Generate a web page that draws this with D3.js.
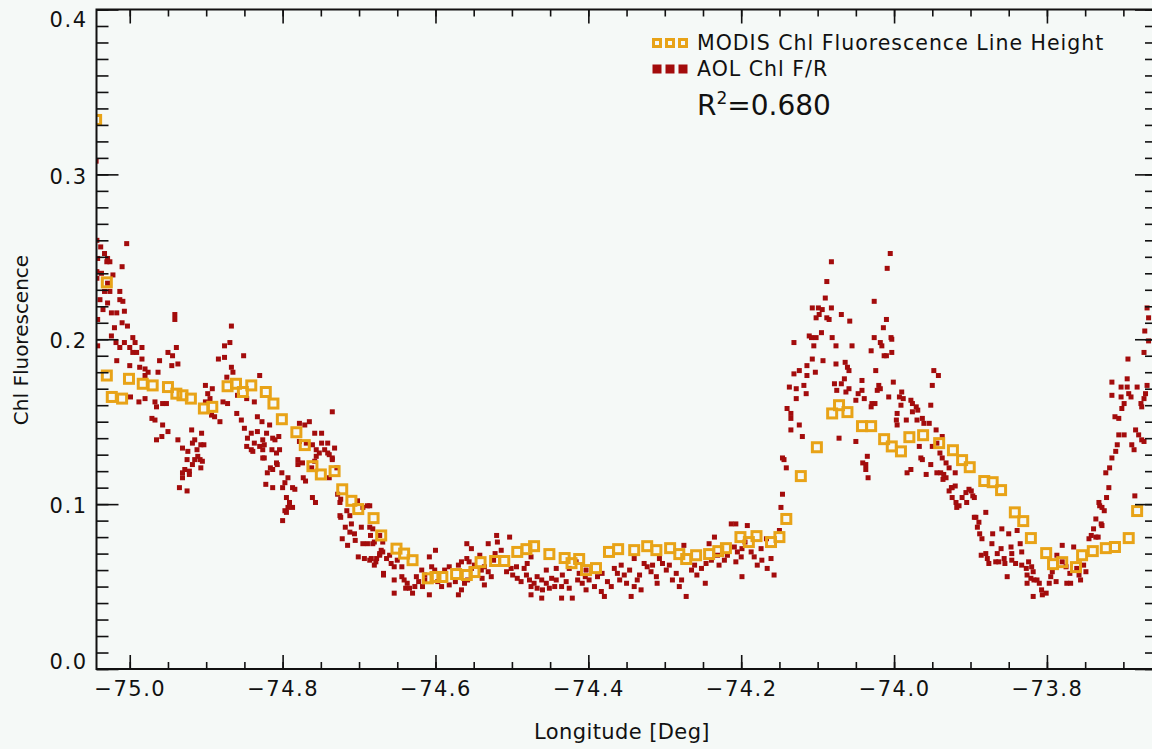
<!DOCTYPE html>
<html>
<head>
<meta charset="utf-8">
<script src="https://cdn.jsdelivr.net/npm/d3@7"></script>
<style>
  html, body { margin: 0; padding: 0; background: #f5f9f7; }
  svg { display: block; }
  text { font-family: "DejaVu Sans", sans-serif; fill: #111; }
</style>
</head>
<body>
<svg id="chart" width="1152" height="749"></svg>
<script>
// MODIS fluorescence line height, [longitude, value]
const modis = [
  [-75.044,0.333],[-75.030,0.2345],[-75.030,0.178],[-75.0235,0.165],[-75.010,0.164],[-75.001,0.176],
  [-74.983,0.173],[-74.970,0.172],[-74.950,0.171],[-74.939,0.167],[-74.931,0.166],[-74.920,0.164],
  [-74.903,0.158],[-74.892,0.159],[-74.872,0.1715],[-74.861,0.173],[-74.852,0.168],[-74.841,0.172],
  [-74.822,0.168],[-74.812,0.161],[-74.801,0.1515],[-74.782,0.1436],[-74.771,0.1358],[-74.761,0.123],
  [-74.750,0.118],[-74.732,0.120],[-74.722,0.109],[-74.710,0.102],[-74.701,0.097],[-74.681,0.0915],
  [-74.671,0.081],[-74.651,0.073],[-74.641,0.070],[-74.630,0.066],[-74.610,0.055],[-74.600,0.0558],
  [-74.591,0.0558],[-74.573,0.0576],[-74.559,0.057],[-74.549,0.0588],[-74.541,0.0648],[-74.522,0.0655],
  [-74.510,0.0655],[-74.493,0.071],[-74.481,0.0727],[-74.471,0.0745],[-74.451,0.0697],[-74.431,0.0673],
  [-74.422,0.0642],[-74.412,0.0667],[-74.403,0.060],[-74.390,0.0612],[-74.373,0.071],[-74.361,0.0727],
  [-74.340,0.0721],[-74.323,0.0745],[-74.311,0.0721],[-74.293,0.0733],[-74.281,0.0697],[-74.272,0.0667],
  [-74.259,0.069],[-74.242,0.0697],[-74.230,0.0715],[-74.220,0.0733],[-74.201,0.080],[-74.190,0.077],
  [-74.180,0.0806],[-74.161,0.077],[-74.150,0.080],[-74.141,0.091],[-74.122,0.117],[-74.101,0.1345],
  [-74.081,0.155],[-74.072,0.160],[-74.061,0.1558],[-74.042,0.1473],[-74.030,0.1473],[-74.013,0.1394],
  [-74.003,0.135],[-73.991,0.132],[-73.980,0.1406],[-73.962,0.1418],[-73.941,0.137],[-73.923,0.1327],
  [-73.911,0.1267],[-73.901,0.1224],[-73.882,0.114],[-73.871,0.1133],[-73.860,0.1085],[-73.842,0.095],
  [-73.831,0.0897],[-73.821,0.0794],[-73.801,0.0703],[-73.792,0.0636],[-73.780,0.0648],[-73.762,0.0618],
  [-73.754,0.069],[-73.740,0.0715],[-73.723,0.0733],[-73.711,0.074],[-73.693,0.0794],[-73.682,0.0958]
];

// AOL Chl F/R, west part of the transect
const aolWest = [
  [-75.044,0.308],[-75.043,0.260],[-75.038,0.256],[-75.033,0.252],[-75.029,0.249],[-75.026,0.247],[-75.030,0.247],
  [-75.042,0.249],[-75.004,0.258],[-75.010,0.244],[-75.043,0.241],[-75.037,0.240],[-75.022,0.239],[-75.043,0.237],
  [-75.029,0.234],[-75.033,0.229],[-75.026,0.229],[-75.039,0.224],[-75.029,0.222],[-75.013,0.229],[-75.013,0.224],
  [-75.009,0.223],[-75.035,0.218],[-75.024,0.216],[-75.017,0.216],[-75.007,0.217],[-75.042,0.212],[-75.010,0.210],
  [-75.020,0.207],[-75.003,0.208],[-75.024,0.202],[-75.018,0.198],[-75.007,0.198],[-74.996,0.201],[-75.042,0.196],
  [-75.013,0.195],[-75.000,0.195],[-74.993,0.198],[-74.984,0.195],[-75.017,0.187],[-74.996,0.192],[-74.991,0.192],
  [-74.984,0.188],[-75.000,0.184],[-74.987,0.183],[-74.980,0.182],[-74.976,0.180],[-74.980,0.178],[-74.963,0.180],
  [-74.961,0.187],[-74.950,0.192],[-74.944,0.190],[-74.939,0.195],[-74.941,0.215],[-74.941,0.212],[-74.945,0.184],
  [-74.937,0.185],[-74.999,0.165],[-74.988,0.162],[-74.980,0.164],[-74.967,0.162],[-74.965,0.159],[-74.957,0.161],
  [-74.952,0.161],[-74.971,0.152],[-74.967,0.151],[-74.957,0.148],[-74.950,0.144],[-74.965,0.139],[-74.958,0.141],
  [-74.937,0.139],[-74.919,0.145],[-74.906,0.143],[-74.915,0.139],[-74.918,0.137],[-74.931,0.134],[-74.924,0.132],
  [-74.907,0.136],[-74.912,0.133],[-74.903,0.136],[-74.925,0.127],[-74.915,0.127],[-74.908,0.127],[-74.905,0.126],
  [-74.918,0.124],[-74.907,0.122],[-74.928,0.121],[-74.922,0.120],[-74.931,0.116],[-74.935,0.110],[-74.925,0.108],
  [-74.911,0.129],[-74.931,0.119],[-74.922,0.118],
  [-74.901,0.172],[-74.898,0.167],[-74.892,0.170],[-74.895,0.164],[-74.901,0.162],[-74.893,0.154],[-74.889,0.153],
  [-74.882,0.150],[-74.884,0.188],[-74.876,0.189],[-74.876,0.196],[-74.869,0.198],[-74.867,0.208],[-74.867,0.183],
  [-74.865,0.180],[-74.873,0.177],[-74.851,0.190],[-74.830,0.178],[-74.859,0.166],[-74.847,0.164],[-74.837,0.162],
  [-74.878,0.162],[-74.872,0.161],[-74.860,0.155],[-74.854,0.151],[-74.850,0.146],[-74.846,0.140],[-74.847,0.135],
  [-74.841,0.133],[-74.837,0.137],[-74.830,0.135],[-74.833,0.144],[-74.826,0.139],[-74.827,0.150],[-74.821,0.143],
  [-74.814,0.133],[-74.808,0.131],[-74.813,0.140],[-74.805,0.141],[-74.824,0.128],[-74.816,0.122],[-74.807,0.124],
  [-74.820,0.119],[-74.801,0.119],[-74.797,0.113],[-74.793,0.116],[-74.822,0.112],[-74.813,0.110],[-74.800,0.110],
  [-74.787,0.110],[-74.795,0.104],[-74.791,0.101],[-74.797,0.096],[-74.787,0.098],
  [-74.841,0.143],[-74.839,0.132],[-74.833,0.153],[-74.817,0.148],[-74.824,0.136],[-74.826,0.133],[-74.810,0.139],
  [-74.804,0.133],[-74.826,0.128],[-74.808,0.125],[-74.813,0.121],[-74.784,0.109],[-74.793,0.098],[-74.795,0.095],
  [-74.800,0.090],
  [-74.778,0.149],[-74.765,0.150],[-74.758,0.143],[-74.749,0.143],[-74.778,0.138],[-74.769,0.137],[-74.761,0.136],
  [-74.756,0.133],[-74.745,0.133],[-74.752,0.131],[-74.741,0.131],[-74.732,0.134],[-74.735,0.156],[-74.780,0.127],
  [-74.774,0.125],[-74.761,0.104],[-74.757,0.101],[-74.725,0.101],[-74.716,0.096],[-74.702,0.102],[-74.695,0.098],
  [-74.689,0.099],[-74.725,0.093],[-74.712,0.093],[-74.735,0.127],[-74.729,0.122],[-74.758,0.126],
  [-74.771,0.148],[-74.749,0.137],[-74.741,0.137],[-74.739,0.130],[-74.735,0.128],[-74.756,0.129],[-74.780,0.124],
  [-74.762,0.122],[-74.773,0.116],[-74.770,0.114],[-74.739,0.116],[-74.728,0.106],[-74.724,0.103],[-74.724,0.092],
  [-74.718,0.086],[-74.712,0.083],[-74.710,0.088],[-74.706,0.082],[-74.722,0.079],[-74.715,0.075],[-74.705,0.078],
  [-74.697,0.086],[-74.686,0.086],[-74.685,0.081],[-74.695,0.076],[-74.689,0.076],[-74.682,0.076],[-74.701,0.068],
  [-74.693,0.067],[-74.684,0.067]
];

// AOL Chl F/R, shelf (flat middle part)
const aolShelf = [
  [-74.677,0.067],[-74.680,0.063],[-74.673,0.069],[-74.671,0.072],[-74.668,0.058],[-74.686,0.099],[-74.682,0.085],
  [-74.680,0.077],[-74.673,0.081],[-74.669,0.077],[-74.686,0.066],[-74.678,0.065],[-74.673,0.070],[-74.669,0.071],
  [-74.664,0.067],[-74.660,0.069],[-74.658,0.064],[-74.654,0.062],[-74.650,0.066],[-74.644,0.062],[-74.668,0.057],
  [-74.654,0.054],[-74.644,0.056],[-74.641,0.054],[-74.637,0.052],[-74.639,0.049],[-74.634,0.049],[-74.627,0.050],
  [-74.630,0.046],[-74.654,0.046],[-74.625,0.056],[-74.618,0.060],[-74.614,0.057],[-74.622,0.053],[-74.614,0.054],
  [-74.617,0.050],[-74.608,0.045],[-74.605,0.062],[-74.601,0.060],[-74.608,0.068],[-74.600,0.072],[-74.597,0.053],
  [-74.592,0.050],[-74.588,0.060],[-74.582,0.062],[-74.582,0.051],[-74.574,0.053],[-74.570,0.063],[-74.566,0.065],
  [-74.559,0.067],[-74.570,0.045],[-74.566,0.048],[-74.562,0.052],[-74.558,0.054],[-74.553,0.061],[-74.559,0.076],
  [-74.553,0.073],[-74.556,0.065],[-74.549,0.063],[-74.542,0.069],[-74.540,0.060],[-74.539,0.055],[-74.536,0.051],
  [-74.536,0.062],[-74.531,0.059],[-74.527,0.056],[-74.524,0.066],[-74.531,0.076],[-74.520,0.081],[-74.519,0.077],
  [-74.514,0.072],[-74.522,0.070],[-74.503,0.080],[-74.507,0.059],[-74.501,0.061],[-74.499,0.057],[-74.493,0.055],
  [-74.488,0.053],[-74.494,0.062],[-74.484,0.061],[-74.481,0.057],[-74.477,0.054],[-74.475,0.050],[-74.471,0.052],
  [-74.480,0.064],[-74.475,0.068],[-74.467,0.056],[-74.461,0.054],[-74.467,0.049],[-74.460,0.048],[-74.455,0.052],
  [-74.451,0.049],[-74.475,0.045],[-74.461,0.043],[-74.455,0.060],[-74.448,0.055],[-74.444,0.050],[-74.442,0.054],
  [-74.435,0.050],[-74.434,0.057],[-74.429,0.053],[-74.425,0.049],[-74.435,0.043],[-74.421,0.043],[-74.425,0.061],
  [-74.416,0.065],[-74.412,0.058],[-74.414,0.054],[-74.408,0.052],[-74.404,0.056],[-74.403,0.048],[-74.442,0.061],
  [-74.403,0.060],[-74.399,0.054],[-74.392,0.050],[-74.388,0.056],[-74.382,0.058],[-74.383,0.047],[-74.379,0.044],
  [-74.375,0.053],[-74.370,0.050],[-74.366,0.061],[-74.362,0.058],[-74.359,0.054],[-74.357,0.063],[-74.353,0.057],
  [-74.350,0.052],[-74.346,0.060],[-74.344,0.044],[-74.340,0.050],[-74.336,0.054],[-74.333,0.057],[-74.331,0.048],
  [-74.340,0.067],[-74.327,0.064],[-74.323,0.062],[-74.318,0.059],[-74.316,0.063],[-74.311,0.056],[-74.310,0.052],
  [-74.307,0.067],[-74.303,0.064],[-74.298,0.060],[-74.294,0.063],[-74.290,0.054],[-74.285,0.058],[-74.281,0.050],
  [-74.278,0.054],[-74.275,0.075],[-74.272,0.044],[-74.265,0.060],[-74.261,0.063],[-74.258,0.057],[-74.252,0.061],
  [-74.247,0.052],[-74.246,0.064],[-74.239,0.066],[-74.242,0.076],[-74.235,0.080],[-74.231,0.069],[-74.229,0.063],
  [-74.222,0.066],[-74.218,0.069],[-74.213,0.088],[-74.207,0.088],[-74.209,0.074],[-74.205,0.071],[-74.207,0.065],
  [-74.200,0.068],[-74.199,0.073],[-74.192,0.087],[-74.195,0.077],[-74.187,0.071],[-74.183,0.068],[-74.179,0.063],
  [-74.174,0.073],[-74.173,0.066],[-74.167,0.079],[-74.166,0.061],[-74.161,0.067],[-74.157,0.057],[-74.199,0.056],
  [-74.150,0.084],[-74.148,0.098],[-74.146,0.106]
];

// AOL Chl F/R, east part (second plume and beyond)
const aolEast = [
  [-74.146,0.128],[-74.144,0.127],[-74.141,0.122],[-74.140,0.158],[-74.135,0.155],[-74.135,0.152],[-74.137,0.171],
  [-74.128,0.170],[-74.128,0.164],[-74.135,0.145],[-74.124,0.148],[-74.120,0.141],[-74.131,0.179],[-74.124,0.181],
  [-74.131,0.198],[-74.118,0.172],[-74.115,0.167],[-74.114,0.178],[-74.114,0.184],[-74.107,0.188],[-74.103,0.180],
  [-74.111,0.202],[-74.108,0.201],[-74.105,0.196],[-74.102,0.201],[-74.107,0.219],[-74.099,0.219],[-74.102,0.213],
  [-74.098,0.215],[-74.094,0.218],[-74.090,0.225],[-74.088,0.213],[-74.082,0.219],[-74.085,0.212],[-74.088,0.235],
  [-74.082,0.247],[-74.095,0.204],[-74.093,0.187],[-74.081,0.201],[-74.076,0.196],[-74.069,0.215],[-74.058,0.211],
  [-74.055,0.196],[-74.076,0.185],[-74.064,0.186],[-74.061,0.183],[-74.059,0.181],[-74.065,0.176],[-74.069,0.173],
  [-74.078,0.173],[-74.075,0.169],[-74.063,0.168],[-74.059,0.170],[-74.050,0.163],[-74.047,0.167],[-74.042,0.175],
  [-74.042,0.169],[-74.039,0.164],[-74.072,0.140],[-74.050,0.138],[-74.041,0.125],[-74.037,0.124],[-74.037,0.121],
  [-74.034,0.116],[-74.035,0.129],[-74.026,0.223],[-74.026,0.201],[-74.030,0.193],[-74.018,0.198],[-74.016,0.196],
  [-74.014,0.207],[-74.010,0.212],[-74.013,0.190],[-74.010,0.190],[-74.004,0.201],[-74.003,0.200],[-74.003,0.192],
  [-74.009,0.243],[-74.005,0.252],[-74.024,0.181],[-74.020,0.172],[-74.022,0.169],[-74.018,0.170],[-74.029,0.161],
  [-74.025,0.161],[-74.030,0.159],[-74.007,0.165],[-74.001,0.174],[-73.993,0.165],[-73.996,0.155],[-73.997,0.151],
  [-73.996,0.148],[-73.990,0.168],[-73.988,0.164],[-73.991,0.160],[-73.984,0.151],[-73.983,0.119],[-73.978,0.121],
  [-73.978,0.163],[-73.976,0.161],[-73.976,0.156],[-73.971,0.159],[-73.969,0.157],[-73.963,0.152],[-73.961,0.149],
  [-73.954,0.149],[-73.952,0.160],[-73.950,0.172],[-73.948,0.181],[-73.942,0.178],[-73.970,0.151],[-73.967,0.135],
  [-73.965,0.128],[-73.963,0.127],[-73.958,0.118],[-73.952,0.124],[-73.950,0.135],[-73.945,0.145],[-73.944,0.137],
  [-73.937,0.141],[-73.940,0.131],[-73.937,0.128],[-73.932,0.125],[-73.928,0.122],[-73.932,0.116],[-73.928,0.108],
  [-73.924,0.104],[-73.919,0.101],[-73.918,0.098],[-73.911,0.104],[-73.906,0.107],[-73.905,0.101],[-73.899,0.108],
  [-73.895,0.104],[-73.924,0.110],[-73.880,0.095],[-73.893,0.092],[-73.889,0.089],[-73.939,0.119],[-73.935,0.118],
  [-73.944,0.119],[-73.936,0.115],[-73.925,0.110],[-73.920,0.111],[-73.915,0.099],[-73.902,0.109],[-73.897,0.105],
  [-73.920,0.119],[-73.895,0.092],[-73.891,0.086],[-73.888,0.082],[-73.885,0.079],[-73.886,0.069],[-73.880,0.070],
  [-73.878,0.067],[-73.876,0.064],[-73.872,0.076],[-73.871,0.082],[-73.860,0.073],[-73.859,0.085],[-73.865,0.070],
  [-73.867,0.065],[-73.863,0.065],[-73.856,0.067],[-73.855,0.064],[-73.850,0.082],[-73.847,0.074],[-73.846,0.070],
  [-73.846,0.066],[-73.841,0.064],[-73.839,0.084],[-73.835,0.076],[-73.833,0.071],[-73.852,0.056],[-73.833,0.063],
  [-73.827,0.061],[-73.826,0.057],[-73.824,0.065],[-73.820,0.062],[-73.818,0.059],[-73.821,0.055],[-73.817,0.054],
  [-73.826,0.052],[-73.813,0.054],[-73.810,0.052],[-73.818,0.044],[-73.807,0.048],[-73.806,0.045],[-73.801,0.046],
  [-73.797,0.052],[-73.795,0.056],[-73.793,0.059],[-73.788,0.053],[-73.787,0.069],[-73.780,0.075],[-73.780,0.065],
  [-73.775,0.062],[-73.774,0.052],[-73.770,0.058],[-73.769,0.052],[-73.765,0.074],[-73.761,0.061],[-73.758,0.057],
  [-73.756,0.054],[-73.752,0.063],[-73.749,0.059],[-73.745,0.079],[-73.742,0.081],[-73.739,0.085],[-73.736,0.080],
  [-73.733,0.080],[-73.736,0.091],[-73.729,0.088],[-73.728,0.087],[-73.731,0.099],[-73.728,0.098],[-73.725,0.096],
  [-73.722,0.104],[-73.719,0.110],[-73.723,0.119],[-73.718,0.122],[-73.715,0.128],[-73.710,0.132],[-73.708,0.136],
  [-73.706,0.142],[-73.711,0.153],[-73.706,0.152],[-73.699,0.142],[-73.702,0.158],[-73.699,0.161],[-73.703,0.165],
  [-73.693,0.167],[-73.690,0.165],[-73.695,0.171],[-73.715,0.166],[-73.682,0.171],[-73.689,0.136],[-73.686,0.133],
  [-73.684,0.145],[-73.680,0.142],[-73.676,0.139],[-73.673,0.138],[-73.677,0.161],[-73.673,0.164],[-73.671,0.167],
  [-73.685,0.105],[-73.694,0.188],[-73.715,0.174],[-73.703,0.171],[-73.695,0.176],[-73.676,0.159],[-73.669,0.172],
  [-73.673,0.192],[-73.669,0.219],[-73.732,0.101],[-73.667,0.213],[-73.672,0.205],[-73.667,0.199]
];

const xMajorTicks = [-75.0, -74.8, -74.6, -74.4, -74.2, -74.0, -73.8];
const yMajorTicks = [0.0, 0.1, 0.2, 0.3, 0.4];
const legendLabels = ['MODIS Chl Fluorescence Line Height', 'AOL Chl F/R'];
const rSquared = '0.680';

// plot box (right edge sits just outside the picture)
const box = { left: 96.5, right: 1157, top: 9.5, bottom: 669 };

const orange = '#e8a317';
const red = '#a30c0c';

const svg = d3.select('#chart');

const x = d3.scaleLinear().domain([-75.0435, -73.656]).range([box.left, box.right]);
const y = d3.scaleLinear().domain([0, 0.4]).range([box.bottom, box.top]);

// minor tick values (every 0.05 deg and every 0.01)
const xMinor = d3.range(-75.05, -73.6, 0.05).map(v => +v.toFixed(2)).filter(v => x(v) >= box.left && x(v) <= box.right);
const yMinor = d3.range(0, 0.401, 0.01).map(v => +v.toFixed(2));

svg.append('clipPath').attr('id', 'plotclip')
  .append('rect')
  .attr('x', box.left).attr('y', box.top)
  .attr('width', box.right - box.left).attr('height', box.bottom - box.top);

const plot = svg.append('g').attr('clip-path', 'url(#plotclip)');

// AOL dots
const aol = aolWest.concat(aolShelf, aolEast);
const dot = 5;
plot.append('g')
  .selectAll('rect')
  .data(aol)
  .join('rect')
  .attr('x', d => x(d[0]) - dot / 2)
  .attr('y', d => y(d[1]) - dot / 2)
  .attr('width', dot)
  .attr('height', dot)
  .attr('fill', red);

// MODIS open squares
const sq = 9;
plot.append('g')
  .selectAll('rect')
  .data(modis)
  .join('rect')
  .attr('x', d => x(d[0]) - sq / 2)
  .attr('y', d => y(d[1]) - sq / 2)
  .attr('width', sq)
  .attr('height', sq)
  .attr('fill', 'none')
  .attr('stroke', orange)
  .attr('stroke-width', 3);

// axes, IDL style: ticks point inwards
function styleAxis(g) {
  g.select('.domain').remove();
  g.selectAll('.tick line').attr('stroke', '#111').attr('stroke-width', 1.6);
}

const fmt = d3.format('.1f');

svg.append('g')
  .attr('transform', `translate(0,${box.bottom})`)
  .call(d3.axisBottom(x).tickValues(xMinor).tickSize(-7).tickFormat(''))
  .call(styleAxis);
svg.append('g')
  .attr('transform', `translate(0,${box.bottom})`)
  .call(d3.axisBottom(x).tickValues(xMajorTicks).tickSize(-14).tickSizeOuter(0).tickPadding(12).tickFormat(fmt))
  .call(styleAxis)
  .call(g => g.selectAll('text')
    .attr('font-size', 21).attr('letter-spacing', 1.5).attr('fill', '#111')
    .attr('font-family', '"DejaVu Sans", sans-serif'));

svg.append('g')
  .attr('transform', `translate(0,${box.top})`)
  .call(d3.axisTop(x).tickValues(xMinor).tickSize(-7).tickFormat(''))
  .call(styleAxis);
svg.append('g')
  .attr('transform', `translate(0,${box.top})`)
  .call(d3.axisTop(x).tickValues(xMajorTicks).tickSize(-14).tickFormat(''))
  .call(styleAxis);

svg.append('g')
  .attr('transform', `translate(${box.left},0)`)
  .call(d3.axisLeft(y).tickValues(yMinor).tickSize(-12).tickFormat(''))
  .call(styleAxis);
svg.append('g')
  .attr('transform', `translate(${box.left},0)`)
  .call(d3.axisLeft(y).tickValues(yMajorTicks).tickSize(-22).tickPadding(9).tickFormat(fmt))
  .call(styleAxis)
  .call(g => g.selectAll('text')
    .attr('font-size', 21).attr('letter-spacing', 1.5).attr('fill', '#111')
    .attr('font-family', '"DejaVu Sans", sans-serif')
    // keep the end labels inside the box like IDL does
    .attr('y', d => Math.max(20, Math.min(662, y(d) + 2)) - y(d)));

svg.append('g')
  .attr('transform', `translate(${box.right},0)`)
  .call(d3.axisRight(y).tickValues(yMinor).tickSize(-12).tickFormat(''))
  .call(styleAxis);
svg.append('g')
  .attr('transform', `translate(${box.right},0)`)
  .call(d3.axisRight(y).tickValues(yMajorTicks).tickSize(-22).tickFormat(''))
  .call(styleAxis);

// frame
svg.append('rect')
  .attr('x', box.left).attr('y', box.top)
  .attr('width', box.right - box.left).attr('height', box.bottom - box.top)
  .attr('fill', 'none').attr('stroke', '#111').attr('stroke-width', 2);

// axis titles
svg.append('text')
  .attr('x', 622).attr('y', 739)
  .attr('text-anchor', 'middle')
  .attr('font-size', 21).attr('letter-spacing', 0.4)
  .text('Longitude [Deg]');

svg.append('text')
  .attr('transform', 'translate(28,340) rotate(-90)')
  .attr('text-anchor', 'middle')
  .attr('font-size', 20)
  .text('Chl Fluorescence');

// legend
const legend = svg.append('g');
const symX = [657, 670, 683];
legendLabels.forEach((label, i) => {
  const cy = 43 + i * 26;
  const row = legend.append('g');
  row.selectAll('rect')
    .data(symX)
    .join('rect')
    .attr('x', d => i === 0 ? d - 3.5 : d - 4.5)
    .attr('y', i === 0 ? cy - 3.5 : cy - 4.5)
    .attr('width', i === 0 ? 7 : 9)
    .attr('height', i === 0 ? 7 : 9)
    .attr('fill', i === 0 ? 'none' : red)
    .attr('stroke', i === 0 ? orange : 'none')
    .attr('stroke-width', 3);
  row.append('text')
    .attr('x', 697).attr('y', cy + 7)
    .attr('font-size', 20.5).attr('letter-spacing', 1)
    .text(label);
});

const r2 = svg.append('text')
  .attr('x', 697).attr('y', 115)
  .attr('font-size', 28);
r2.append('tspan').text('R');
r2.append('tspan').attr('font-size', 17).attr('dy', -11).text('2');
r2.append('tspan').attr('dy', 11).text('=' + rSquared);
</script>
</body>
</html>
